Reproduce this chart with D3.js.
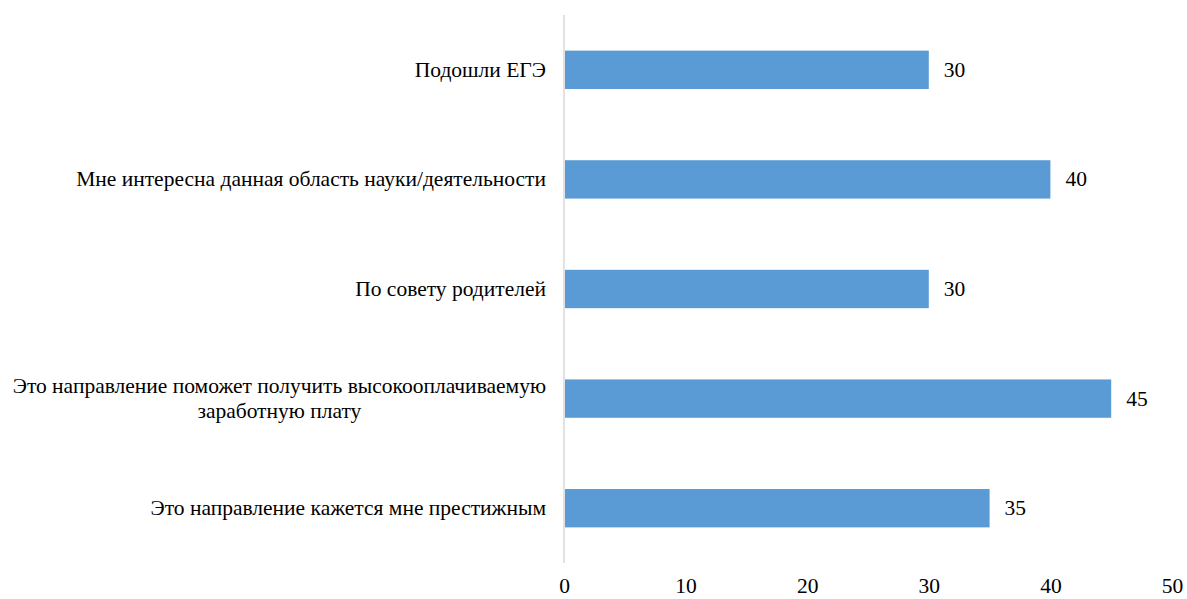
<!DOCTYPE html>
<html>
<head>
<meta charset="utf-8">
<script src="https://cdn.jsdelivr.net/npm/d3@7"></script>
</head>
<body style="margin:0;background:#fff">
<svg id="vis" width="1187" height="599"></svg>
<script>
// reasons for choosing the direction, top to bottom
var categories = [
    ["Подошли ЕГЭ"],
    ["Мне интересна данная область науки/деятельности"],
    ["По совету родителей"],
    ["Это направление поможет получить высокооплачиваемую", "заработную плату"],
    ["Это направление кажется мне престижным"]
];
var values = [30, 40, 30, 45, 35];
var tickValues = [0, 10, 20, 30, 40, 50];

var FONT = "Liberation Serif";
var FS = 21.5;
var svg = d3.select("#vis");
var plotLeft = 564, plotRight = 1172, plotTop = 15, plotBottom = 563;

var x = d3.scaleLinear().domain([0, 50]).range([plotLeft, plotRight]);
var y = d3.scaleBand()
    .domain(d3.range(categories.length))
    .range([plotTop, plotBottom])
    .paddingInner(0.65)
    .paddingOuter(0.325);

// bars
svg.selectAll("rect.bar")
    .data(values)
    .enter()
    .append("rect")
    .attr("class", "bar")
    .attr("x", x(0) + 1)
    .attr("y", function (d, i) { return y(i); })
    .attr("height", y.bandwidth())
    .attr("width", function (d) { return x(d) - x(0) - 1; })
    .attr("fill", "#5b9bd5");

// value labels
svg.selectAll("text.val")
    .data(values)
    .enter()
    .append("text")
    .attr("class", "val")
    .attr("x", function (d) { return x(d) + 15; })
    .attr("y", function (d, i) { return y(i) + y.bandwidth() / 2 + 7; })
    .attr("font-size", FS)
    .style("font-family", FONT)
    .attr("fill", "#000")
    .text(function (d) { return d; });

// category labels; the two-line one is centred as a block ending at 546
categories.forEach(function (lines, i) {
    var cy = y(i) + y.bandwidth() / 2 + 7;
    var lh = 25;
    var t = svg.append("text")
        .attr("font-size", FS)
        .style("font-family", FONT)
        .attr("fill", "#000")
        .attr("text-anchor", "end");
    lines.forEach(function (ln, k) {
        t.append("tspan")
            .attr("x", 546)
            .attr("y", cy + (k - (lines.length - 1) / 2) * lh)
            .text(ln);
    });
    if (lines.length > 1) {
        var tsp = t.selectAll("tspan").nodes();
        var maxW = d3.max(tsp, function (n) { return n.getComputedTextLength(); });
        t.attr("text-anchor", "middle");
        tsp.forEach(function (n) { d3.select(n).attr("x", 546 - maxW / 2); });
    }
});

// vertical category axis line
svg.append("line")
    .attr("x1", x(0)).attr("x2", x(0))
    .attr("y1", plotTop).attr("y2", plotBottom)
    .attr("stroke", "#d9d9d9")
    .attr("stroke-width", 1.5);

// bottom tick labels, no axis line
var ax = svg.append("g")
    .attr("transform", "translate(0,578)")
    .call(d3.axisBottom(x).tickValues(tickValues).tickSize(0).tickPadding(0));
ax.select(".domain").remove();
ax.attr("font-family", null).attr("font-size", null);
ax.selectAll("text")
    .attr("font-size", FS)
    .style("font-family", FONT)
    .attr("fill", "#000")
    .attr("dy", "0.71em");
</script>
</body>
</html>
